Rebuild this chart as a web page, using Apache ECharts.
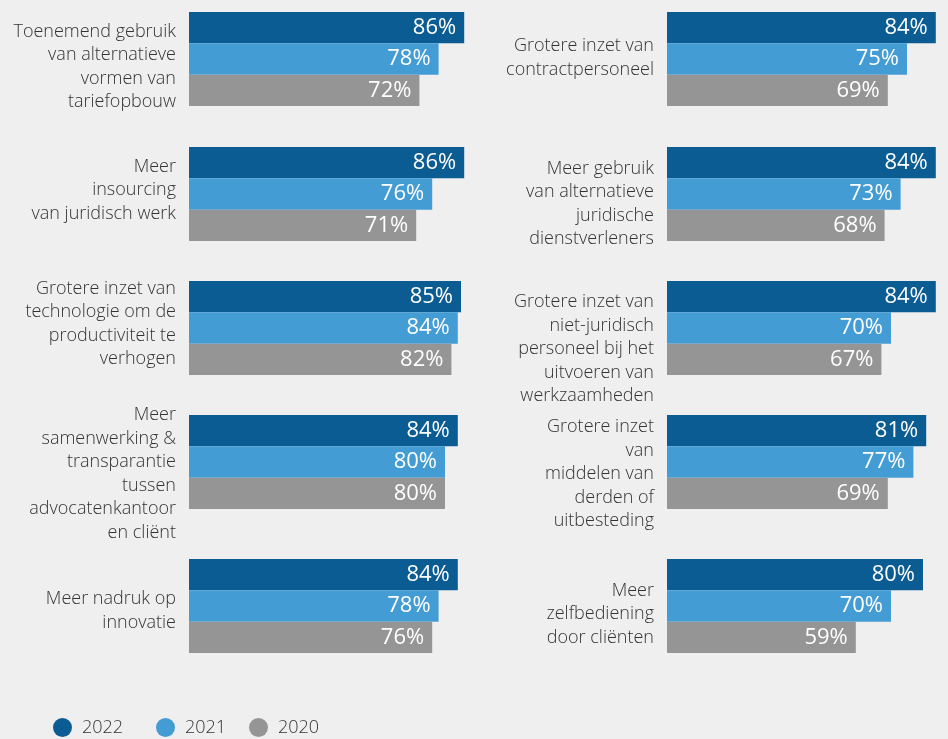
<!DOCTYPE html>
<html>
<head>
<meta charset="utf-8">
<script src="https://cdn.jsdelivr.net/npm/echarts@6/dist/echarts.min.js"></script>
<style>
html,body{margin:0;padding:0;background:#efefef;}
#chart{width:948px;height:739px;}
</style>
</head>
<body>
<div id="chart"></div>
<script>
// Panels: left column top-to-bottom, then right column top-to-bottom
const statements = [
  'Toenemend gebruik\nvan alternatieve\nvormen van\ntariefopbouw',
  'Meer\ninsourcing\nvan juridisch werk',
  'Grotere inzet van\ntechnologie om de\nproductiviteit te\nverhogen',
  'Meer\nsamenwerking &\ntransparantie\ntussen\nadvocatenkantoor\nen cliënt',
  'Meer nadruk op\ninnovatie',
  'Grotere inzet van\ncontractpersoneel',
  'Meer gebruik\nvan alternatieve\njuridische\ndienstverleners',
  'Grotere inzet van\nniet-juridisch\npersoneel bij het\nuitvoeren van\nwerkzaamheden',
  'Grotere inzet\nvan\nmiddelen van\nderden of\nuitbesteding',
  'Meer\nzelfbediening\ndoor cliënten'
];
const years = ['2022', '2021', '2020'];
const values2022 = [86, 86, 85, 84, 84, 84, 84, 84, 81, 80];
const values2021 = [78, 76, 84, 80, 78, 75, 73, 70, 77, 70];
const values2020 = [72, 71, 82, 80, 76, 69, 68, 67, 69, 59];

const yearValues = [values2022, values2021, values2020];
const colors = ['#0b5c93', '#449cd4', '#959595'];
const FONT = '"Open Sans", "Noto Sans", sans-serif';

// layout
const rowTops = [12, 147, 281, 415, 559];
const colLefts = [189, 667];
const labelNudge = [8, -4, -4, 12, 5, -1, 10, 21, 12, 8];
const legendLefts = [48, 151, 244];

const grids = [], xAxes = [], yAxes = [], series = [];

statements.forEach((label, i) => {
  const col = i < 5 ? 0 : 1;
  const row = i % 5;
  const d = labelNudge[i];
  grids.push({ left: colLefts[col], top: rowTops[row], width: 320, height: 94,
    containLabel: false, outerBoundsMode: 'none' });
  xAxes.push({ type: 'value', gridIndex: i, min: 0, max: 100, show: false });
  yAxes.push({
    type: 'category', gridIndex: i, data: [label], inverse: true,
    axisLine: { show: false }, axisTick: { show: false }, splitLine: { show: false },
    axisLabel: {
      show: true, margin: 13, align: 'right', fontFamily: FONT, fontSize: 18,
      fontWeight: 300, lineHeight: 23.5, color: '#333333',
      formatter: (v) => d >= 0 ? '{s|}\n' + v : v + '\n{s|}',
      rich: { s: { lineHeight: Math.max(1, 2 * Math.abs(d)), fontSize: 1 } }
    }
  });
  years.forEach((y, k) => {
    series.push({
      name: y, type: 'bar', xAxisIndex: i, yAxisIndex: i,
      data: [yearValues[k][i]],
      barGap: 0, barCategoryGap: 0,
      itemStyle: { color: colors[k] },
      label: {
        show: true, position: 'insideRight', distance: 8,
        formatter: '{c}%', color: '#ffffff', fontFamily: FONT, fontSize: 22
      },
      silent: true, animation: false
    });
  });
});

const legends = years.map((y, k) => ({
  data: [y], left: legendLefts[k], top: 713, icon: 'circle',
  itemWidth: 29, itemHeight: 19,
  textStyle: { fontFamily: FONT, fontSize: 18, color: '#333333', fontWeight: 300 }
}));

const chart = echarts.init(document.getElementById('chart'), null, { renderer: 'canvas' });
chart.setOption({
  backgroundColor: '#efefef',
  animation: false,
  color: colors,
  grid: grids,
  xAxis: xAxes,
  yAxis: yAxes,
  legend: legends,
  series: series
});
</script>
</body>
</html>
